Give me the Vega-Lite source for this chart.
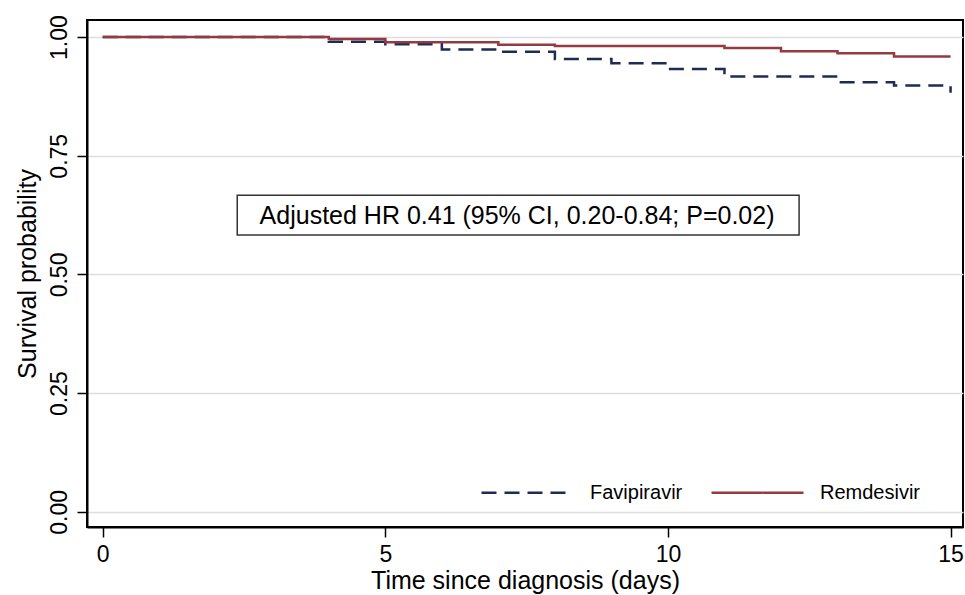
{
  "$schema": "https://vega.github.io/schema/vega-lite/v6.json",
  "width": 876,
  "height": 507,
  "autosize": {"type": "none"},
  "padding": {"left": 87, "top": 20, "right": 2, "bottom": 68},
  "background": "white",
  "config": {
    "font": "Liberation Sans",
    "view": {"stroke": "black", "strokeWidth": 2},
    "axis": {"labelFont": "Liberation Sans", "titleFont": "Liberation Sans", "labelColor": "black", "titleColor": "black", "titleFontWeight": "normal", "domainColor": "black", "tickColor": "black", "domainWidth": 2, "tickWidth": 1.5, "tickSize": 10}
  },
  "datasets": {
    "km": [
      {"drug": "Favipiravir", "day": 0, "surv": 1.0},
      {"drug": "Favipiravir", "day": 4, "surv": 0.99},
      {"drug": "Favipiravir", "day": 5, "surv": 0.985},
      {"drug": "Favipiravir", "day": 6, "surv": 0.974},
      {"drug": "Favipiravir", "day": 7, "surv": 0.969},
      {"drug": "Favipiravir", "day": 8, "surv": 0.954},
      {"drug": "Favipiravir", "day": 9, "surv": 0.945},
      {"drug": "Favipiravir", "day": 10, "surv": 0.933},
      {"drug": "Favipiravir", "day": 11, "surv": 0.917},
      {"drug": "Favipiravir", "day": 13, "surv": 0.905},
      {"drug": "Favipiravir", "day": 14, "surv": 0.898},
      {"drug": "Favipiravir", "day": 15, "surv": 0.883},
      {"drug": "Remdesivir", "day": 0, "surv": 1.0},
      {"drug": "Remdesivir", "day": 4, "surv": 0.996},
      {"drug": "Remdesivir", "day": 5, "surv": 0.989},
      {"drug": "Remdesivir", "day": 7, "surv": 0.984},
      {"drug": "Remdesivir", "day": 8, "surv": 0.981},
      {"drug": "Remdesivir", "day": 11, "surv": 0.977},
      {"drug": "Remdesivir", "day": 12, "surv": 0.970},
      {"drug": "Remdesivir", "day": 13, "surv": 0.966},
      {"drug": "Remdesivir", "day": 14, "surv": 0.959},
      {"drug": "Remdesivir", "day": 15, "surv": 0.959}
    ],
    "note": [{"label": "Adjusted HR 0.41 (95% CI, 0.20-0.84; P=0.02)"}]
  },
  "layer": [
    {
      "data": {"name": "km"},
      "mark": {"type": "line", "interpolate": "step-after", "strokeWidth": 2.5},
      "encoding": {
        "x": {
          "field": "day", "type": "quantitative",
          "scale": {"domain": [-0.278, 15.22], "nice": false, "zero": false},
          "axis": {"values": [0, 5, 10, 15], "format": "d", "grid": false, "title": "Time since diagnosis (days)", "labelFontSize": 23, "titleFontSize": 25, "labelPadding": 6, "titlePadding": 2, "labelFlush": false}
        },
        "y": {
          "field": "surv", "type": "quantitative",
          "scale": {"domain": [-0.032, 1.036], "nice": false, "zero": false},
          "axis": {"values": [0, 0.25, 0.5, 0.75, 1], "format": ".2f", "grid": true, "gridColor": "#dedede", "gridWidth": 1.5, "title": "Survival probability", "labelFontSize": 23, "titleFontSize": 25, "labelAngle": 270, "labelAlign": "center", "labelBaseline": "bottom", "labelPadding": 6, "titlePadding": 8}
        },
        "color": {
          "field": "drug", "type": "nominal",
          "scale": {"domain": ["Favipiravir", "Remdesivir"], "range": ["#1e2b55", "#953a40"]},
          "legend": {
            "title": null, "orient": "none", "direction": "horizontal", "legendX": 393, "legendY": 425,
            "symbolType": "stroke", "symbolSize": 8464, "symbolStrokeWidth": 2.5,
            "labelFontSize": 20, "labelColor": "black", "labelOffset": 15, "columnPadding": 23
          }
        },
        "strokeDash": {
          "field": "drug", "type": "nominal",
          "scale": {"domain": ["Favipiravir", "Remdesivir"], "range": [[15, 8], [1, 0]]},
          "legend": null
        }
      }
    },
    {
      "data": {"name": "note"},
      "mark": {"type": "rect", "fill": "white", "stroke": "#333333", "strokeWidth": 1.5},
      "encoding": {
        "x": {"datum": 2.38, "type": "quantitative"},
        "x2": {"datum": 12.32},
        "y": {"datum": 0.667, "type": "quantitative"},
        "y2": {"datum": 0.583}
      }
    },
    {
      "data": {"name": "note"},
      "mark": {"type": "text", "fontSize": 25, "color": "black", "align": "center", "baseline": "middle"},
      "encoding": {
        "x": {"datum": 7.33, "type": "quantitative"},
        "y": {"datum": 0.623, "type": "quantitative"},
        "text": {"field": "label"}
      }
    }
  ]
}
